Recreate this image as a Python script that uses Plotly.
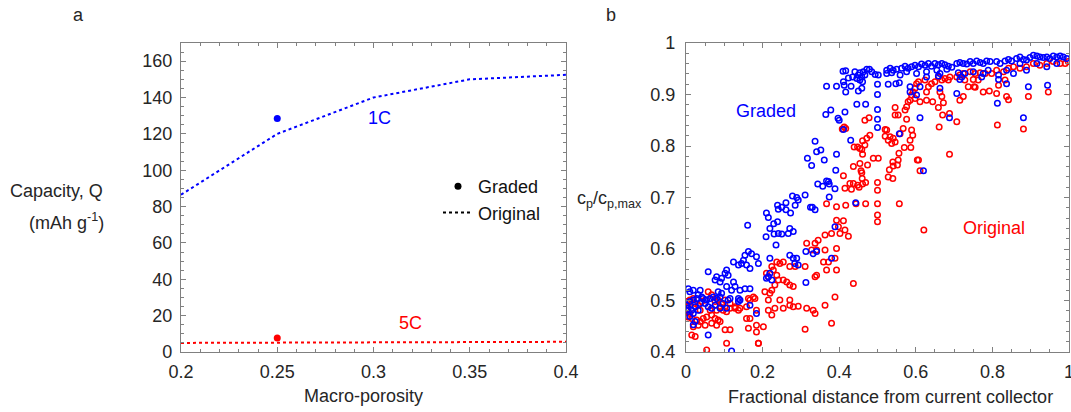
import plotly.graph_objects as go

# ---------------- Panel a data ----------------
porosity = [0.2, 0.25, 0.3, 0.35, 0.4]
q_1c_original = [86.5, 120.0, 140.0, 150.0, 152.5]
q_5c_original = [5.0, 5.2, 5.4, 5.5, 5.6]
graded_porosity = [0.25]
q_1c_graded = [128.5]
q_5c_graded = [7.7]

# ---------------- Panel b data ----------------
graded_points = [
    (0.41, 0.945), (0.417, 0.946), (0.441, 0.944), (0.454, 0.942), (0.463, 0.944), (0.472, 0.949),
    (0.479, 0.949), (0.485, 0.944), (0.467, 0.938), (0.459, 0.934), (0.45, 0.938), (0.446, 0.931),
    (0.454, 0.928), (0.461, 0.925), (0.435, 0.934), (0.424, 0.932), (0.411, 0.925), (0.413, 0.918),
    (0.393, 0.916), (0.367, 0.916), (0.417, 0.905), (0.431, 0.916), (0.45, 0.907), (0.459, 0.912),
    (0.446, 0.881), (0.469, 0.881), (0.365, 0.861), (0.378, 0.87), (0.415, 0.866), (0.397, 0.854),
    (0.4, 0.85), (0.411, 0.832), (0.43, 0.811), (0.337, 0.809), (0.341, 0.789), (0.352, 0.792),
    (0.317, 0.776), (0.328, 0.762), (0.361, 0.773), (0.393, 0.784), (0.391, 0.753), (0.344, 0.726),
    (0.357, 0.722), (0.372, 0.731), (0.374, 0.726), (0.367, 0.732), (0.389, 0.717), (0.374, 0.701),
    (0.311, 0.705), (0.289, 0.7), (0.278, 0.703), (0.293, 0.695), (0.285, 0.685), (0.261, 0.69),
    (0.25, 0.681), (0.241, 0.677), (0.239, 0.685), (0.261, 0.676), (0.273, 0.67), (0.33, 0.681),
    (0.337, 0.676), (0.325, 0.681), (0.443, 0.69), (0.21, 0.67), (0.215, 0.661), (0.239, 0.653),
    (0.229, 0.649), (0.161, 0.646), (0.271, 0.64),
    (0.524, 0.947), (0.533, 0.951), (0.541, 0.947), (0.55, 0.949), (0.563, 0.951), (0.572, 0.955),
    (0.58, 0.951), (0.589, 0.954), (0.598, 0.957), (0.607, 0.954), (0.615, 0.959), (0.624, 0.957),
    (0.633, 0.96), (0.641, 0.955), (0.65, 0.96), (0.659, 0.958), (0.668, 0.96), (0.676, 0.958),
    (0.685, 0.955), (0.694, 0.953), (0.707, 0.96), (0.715, 0.962), (0.724, 0.96), (0.733, 0.959),
    (0.742, 0.964), (0.75, 0.96), (0.759, 0.965), (0.768, 0.962), (0.776, 0.96), (0.785, 0.965),
    (0.794, 0.964), (0.811, 0.964), (0.82, 0.96), (0.833, 0.965), (0.842, 0.968), (0.85, 0.965),
    (0.863, 0.97), (0.872, 0.973), (0.881, 0.968), (0.889, 0.967), (0.898, 0.972), (0.907, 0.976),
    (0.916, 0.975), (0.924, 0.973), (0.933, 0.972), (0.942, 0.973), (0.95, 0.97), (0.959, 0.975),
    (0.968, 0.973), (0.977, 0.975), (0.985, 0.973), (0.994, 0.97), (0.494, 0.939), (0.502, 0.938),
    (0.524, 0.941), (0.537, 0.942), (0.559, 0.938), (0.576, 0.944), (0.602, 0.941), (0.628, 0.944),
    (0.655, 0.947), (0.663, 0.941), (0.681, 0.949), (0.711, 0.942), (0.72, 0.934), (0.728, 0.941),
    (0.75, 0.944), (0.776, 0.941), (0.789, 0.947), (0.816, 0.938), (0.837, 0.947), (0.855, 0.941),
    (0.872, 0.96), (0.889, 0.947), (0.916, 0.96), (0.942, 0.954), (0.968, 0.96),
    (0.5, 0.92), (0.5, 0.9), (0.5, 0.871), (0.5, 0.852), (0.5, 0.836), (0.528, 0.92), (0.548, 0.921),
    (0.557, 0.923), (0.611, 0.915), (0.585, 0.915), (0.663, 0.912), (0.659, 0.936), (0.628, 0.934),
    (0.602, 0.899), (0.585, 0.905), (0.611, 0.855), (0.688, 0.855), (0.557, 0.824), (0.62, 0.752),
    (0.707, 0.902), (0.715, 0.929), (0.772, 0.934), (0.816, 0.929), (0.837, 0.921), (0.813, 0.883),
    (0.881, 0.855), (0.894, 0.915), (0.944, 0.918),
    (0.28, 0.634), (0.267, 0.63), (0.25, 0.629), (0.241, 0.63), (0.23, 0.629), (0.209, 0.624),
    (0.235, 0.608), (0.219, 0.64), (0.163, 0.595), (0.171, 0.591), (0.154, 0.588), (0.184, 0.585),
    (0.189, 0.572), (0.15, 0.578), (0.145, 0.572), (0.158, 0.569), (0.167, 0.562), (0.124, 0.575),
    (0.137, 0.569), (0.106, 0.559), (0.102, 0.553), (0.11, 0.549), (0.08, 0.546), (0.089, 0.536),
    (0.093, 0.543), (0.058, 0.556), (0.076, 0.54), (0.219, 0.582), (0.271, 0.588), (0.28, 0.582),
    (0.289, 0.582), (0.284, 0.572), (0.215, 0.546), (0.224, 0.54), (0.21, 0.543), (0.219, 0.553),
    (0.313, 0.595), (0.332, 0.591), (0.341, 0.595), (0.38, 0.582), (0.389, 0.643), (0.313, 0.535),
    (0.293, 0.569), (0.124, 0.536), (0.128, 0.527), (0.119, 0.52), (0.154, 0.523), (0.167, 0.523),
    (0.141, 0.52), (0.106, 0.527), (0.115, 0.504), (0.137, 0.504), (0.141, 0.501), (0.11, 0.501),
    (0.167, 0.491), (0.184, 0.475), (0.137, 0.498),
    (0.006, 0.523), (0.019, 0.52), (0.01, 0.517), (0.032, 0.511), (0.041, 0.507), (0.037, 0.52),
    (0.045, 0.504), (0.054, 0.501), (0.063, 0.504), (0.071, 0.507), (0.08, 0.504), (0.089, 0.507),
    (0.093, 0.514), (0.084, 0.517), (0.028, 0.504), (0.019, 0.501), (0.01, 0.498), (0.002, 0.491),
    (0.006, 0.485), (0.015, 0.481), (0.032, 0.481), (0.024, 0.488), (0.037, 0.494), (0.05, 0.494),
    (0.058, 0.488), (0.067, 0.485), (0.076, 0.491), (0.019, 0.475), (0.01, 0.469), (0.024, 0.459),
    (0.019, 0.453), (0.058, 0.433), (0.119, 0.402), (0.002, 0.481), (0.097, 0.494), (0.106, 0.485),
    (0.089, 0.485),
]

original_points = [
    (0.467, 0.85), (0.478, 0.855), (0.408, 0.833), (0.417, 0.834), (0.413, 0.837), (0.472, 0.815),
    (0.461, 0.81), (0.467, 0.802), (0.454, 0.795), (0.448, 0.798), (0.439, 0.798), (0.461, 0.784),
    (0.459, 0.793), (0.437, 0.76), (0.454, 0.766), (0.457, 0.752), (0.459, 0.748), (0.474, 0.763),
    (0.411, 0.742), (0.46, 0.737), (0.437, 0.727), (0.428, 0.727), (0.448, 0.724), (0.461, 0.726),
    (0.469, 0.729), (0.415, 0.718), (0.432, 0.716), (0.452, 0.72), (0.367, 0.688), (0.393, 0.682),
    (0.417, 0.685), (0.444, 0.688), (0.469, 0.688), (0.393, 0.656), (0.411, 0.655), (0.398, 0.643),
    (0.707, 0.934), (0.715, 0.938), (0.724, 0.941), (0.742, 0.944), (0.755, 0.941), (0.768, 0.942),
    (0.781, 0.941), (0.798, 0.941), (0.811, 0.947), (0.829, 0.944), (0.842, 0.951), (0.855, 0.954),
    (0.872, 0.951), (0.889, 0.954), (0.907, 0.96), (0.924, 0.957), (0.942, 0.96), (0.959, 0.964),
    (0.977, 0.96), (0.99, 0.96), (0.998, 0.964),
    (0.659, 0.934), (0.668, 0.928), (0.676, 0.931), (0.685, 0.928), (0.689, 0.934), (0.65, 0.925),
    (0.641, 0.921), (0.633, 0.915), (0.628, 0.905), (0.624, 0.928), (0.607, 0.925), (0.602, 0.921),
    (0.598, 0.912), (0.593, 0.905), (0.589, 0.899), (0.585, 0.889), (0.58, 0.886), (0.576, 0.876),
    (0.598, 0.892), (0.611, 0.886), (0.628, 0.889), (0.644, 0.886), (0.659, 0.875), (0.672, 0.884),
    (0.663, 0.905), (0.668, 0.896), (0.728, 0.928), (0.75, 0.929), (0.763, 0.928), (0.737, 0.915),
    (0.755, 0.914), (0.776, 0.905), (0.792, 0.907), (0.715, 0.889), (0.724, 0.896), (0.752, 0.915),
    (0.811, 0.902), (0.833, 0.928), (0.837, 0.896), (0.842, 0.89), (0.816, 0.918), (0.894, 0.896),
    (0.946, 0.905), (0.813, 0.841), (0.881, 0.833), (0.661, 0.837), (0.688, 0.784), (0.707, 0.847),
    (0.67, 0.86), (0.688, 0.863),
    (0.572, 0.87), (0.567, 0.834), (0.559, 0.824), (0.589, 0.831), (0.585, 0.811), (0.592, 0.821),
    (0.57, 0.797), (0.587, 0.797), (0.556, 0.786), (0.554, 0.773), (0.552, 0.763), (0.54, 0.769),
    (0.531, 0.754), (0.541, 0.761), (0.54, 0.737), (0.528, 0.74), (0.607, 0.773), (0.611, 0.752),
    (0.604, 0.773), (0.546, 0.875), (0.554, 0.86), (0.546, 0.86), (0.576, 0.852), (0.52, 0.819),
    (0.524, 0.831), (0.533, 0.818), (0.541, 0.815), (0.528, 0.811), (0.537, 0.805), (0.546, 0.808),
    (0.52, 0.832), (0.5, 0.729), (0.5, 0.714), (0.5, 0.688), (0.5, 0.666), (0.5, 0.653),
    (0.48, 0.821), (0.489, 0.776), (0.502, 0.776), (0.557, 0.688), (0.621, 0.637),
    (0.415, 0.637), (0.402, 0.63), (0.424, 0.625), (0.38, 0.63), (0.363, 0.627), (0.345, 0.617),
    (0.337, 0.611), (0.315, 0.611), (0.328, 0.598), (0.341, 0.598), (0.363, 0.598), (0.393, 0.601),
    (0.389, 0.582), (0.372, 0.575), (0.359, 0.575), (0.393, 0.559), (0.367, 0.559), (0.311, 0.566),
    (0.337, 0.546), (0.341, 0.549), (0.437, 0.533), (0.389, 0.507), (0.38, 0.456), (0.363, 0.491),
    (0.332, 0.481), (0.337, 0.475), (0.315, 0.485), (0.311, 0.444), (0.271, 0.501), (0.271, 0.491),
    (0.28, 0.488), (0.293, 0.489), (0.254, 0.485), (0.245, 0.501), (0.232, 0.485), (0.215, 0.481),
    (0.224, 0.472), (0.202, 0.449), (0.184, 0.452), (0.189, 0.417), (0.271, 0.566), (0.245, 0.572),
    (0.237, 0.575), (0.254, 0.575), (0.285, 0.566), (0.228, 0.559), (0.224, 0.566), (0.237, 0.549),
    (0.241, 0.54), (0.254, 0.54), (0.263, 0.536), (0.271, 0.53), (0.28, 0.527), (0.232, 0.53),
    (0.224, 0.52), (0.219, 0.514), (0.215, 0.501), (0.206, 0.517), (0.21, 0.553), (0.215, 0.546),
    (0.002, 0.498), (0.01, 0.501), (0.019, 0.504), (0.006, 0.491), (0.024, 0.494), (0.032, 0.491),
    (0.041, 0.498), (0.05, 0.501), (0.058, 0.517), (0.067, 0.511), (0.076, 0.498), (0.084, 0.501),
    (0.093, 0.494), (0.102, 0.501), (0.115, 0.494), (0.128, 0.488), (0.141, 0.485), (0.158, 0.488),
    (0.167, 0.501), (0.176, 0.507), (0.18, 0.504), (0.163, 0.504), (0.006, 0.468), (0.015, 0.465),
    (0.028, 0.462), (0.037, 0.459), (0.045, 0.465), (0.054, 0.468), (0.067, 0.472), (0.076, 0.465),
    (0.084, 0.462), (0.097, 0.481), (0.106, 0.478), (0.115, 0.485), (0.128, 0.485), (0.137, 0.481),
    (0.019, 0.449), (0.032, 0.452), (0.05, 0.452), (0.067, 0.456), (0.08, 0.452), (0.089, 0.459),
    (0.102, 0.443), (0.115, 0.443), (0.158, 0.465), (0.167, 0.465), (0.184, 0.481), (0.163, 0.446),
    (0.184, 0.439), (0.015, 0.433), (0.024, 0.43), (0.054, 0.404), (0.106, 0.417), (0.189, 0.417),
    (0.002, 0.485), (0.0, 0.481), (0.01, 0.475), (0.037, 0.481), (0.063, 0.481), (0.08, 0.481),
    (0.089, 0.488),
]

graded_x = [p[0] for p in graded_points]
graded_y = [p[1] for p in graded_points]
original_x = [p[0] for p in original_points]
original_y = [p[1] for p in original_points]

# ---------------- Styling ----------------
W, H = 1071, 412
BLUE = "rgb(0,0,255)"
RED = "rgb(255,0,0)"
AXIS = "#808080"
TXT = "#262626"
FONT = "Liberation Sans, Arial, sans-serif"


def px(x):
    return x / W


def py(y):
    return 1 - y / H


fig = go.Figure()

# Panel a
fig.add_trace(go.Scatter(x=porosity, y=q_1c_original, mode="lines",
                         line=dict(color=BLUE, width=2, dash="dot"),
                         showlegend=False, xaxis="x", yaxis="y"))
fig.add_trace(go.Scatter(x=porosity, y=q_5c_original, mode="lines",
                         line=dict(color=RED, width=2, dash="dot"),
                         showlegend=False, xaxis="x", yaxis="y"))
fig.add_trace(go.Scatter(x=graded_porosity, y=q_1c_graded, mode="markers",
                         marker=dict(color=BLUE, size=7),
                         showlegend=False, xaxis="x", yaxis="y"))
fig.add_trace(go.Scatter(x=graded_porosity, y=q_5c_graded, mode="markers",
                         marker=dict(color=RED, size=7),
                         showlegend=False, xaxis="x", yaxis="y"))
# legend entries
fig.add_trace(go.Scatter(x=[None], y=[None], mode="markers", name="Graded",
                         marker=dict(color="black", size=7),
                         xaxis="x", yaxis="y"))
fig.add_trace(go.Scatter(x=[None], y=[None], mode="lines", name="Original",
                         line=dict(color="black", width=2, dash="dot"),
                         xaxis="x", yaxis="y"))

# Panel b
fig.add_trace(go.Scatter(x=original_x, y=original_y, mode="markers",
                         marker=dict(symbol="circle-open", color=RED, size=5.5,
                                     line=dict(width=1.5, color=RED)),
                         showlegend=False, xaxis="x2", yaxis="y2"))
fig.add_trace(go.Scatter(x=graded_x, y=graded_y, mode="markers",
                         marker=dict(symbol="circle-open", color=BLUE, size=5.5,
                                     line=dict(width=1.5, color=BLUE)),
                         showlegend=False, xaxis="x2", yaxis="y2"))

common = dict(showgrid=False, zeroline=False, showline=True, linecolor=AXIS,
              linewidth=1.3, mirror="ticks", ticks="inside", tickcolor=AXIS,
              ticklen=5, tickwidth=1, automargin=False, ticklabeloverflow="allow",
              tickfont=dict(family=FONT, size=18, color=TXT))

fig.update_layout(
    width=W, height=H,
    margin=dict(l=0, r=0, t=0, b=0),
    paper_bgcolor="white", plot_bgcolor="white",
    font=dict(family=FONT, size=18, color=TXT),
    xaxis=dict(domain=[px(181), px(566)], range=[0.2, 0.4], dtick=0.05, tick0=0.2,
               anchor="y", ticklabelstandoff=3,
               minor=dict(dtick=0.01, ticks="inside", ticklen=3, tickcolor=AXIS), **common),
    yaxis=dict(domain=[py(352), py(43)], range=[0, 170], dtick=20, tick0=0,
               anchor="x", ticklabelstandoff=4,
               minor=dict(dtick=5, ticks="inside", ticklen=3, tickcolor=AXIS), **common),
    xaxis2=dict(domain=[px(686), px(1069)], range=[0, 1], dtick=0.2, tick0=0,
                anchor="y2", ticklabelstandoff=3,
                minor=dict(dtick=0.05, ticks="inside", ticklen=3, tickcolor=AXIS), **common),
    yaxis2=dict(domain=[py(352), py(43)], range=[0.4, 1.0], dtick=0.1, tick0=0.4,
                anchor="x2", ticklabelstandoff=6,
                minor=dict(dtick=0.02, ticks="inside", ticklen=3, tickcolor=AXIS), **common),
    legend=dict(x=px(438), y=py(168), xanchor="left", yanchor="top",
                bgcolor="rgba(0,0,0,0)", font=dict(family=FONT, size=18, color="#111"),
                itemwidth=30, tracegroupgap=0),
    showlegend=True,
)

ann = []
def text(t, x, y, color=TXT, size=18, xanchor="center", xref="paper", yref="paper"):
    ann.append(dict(text=t, x=x, y=y, xref=xref, yref=yref, showarrow=False,
                    xanchor=xanchor, yanchor="middle",
                    font=dict(family=FONT, size=size, color=color)))

text("a", px(78), py(15))
text("b", px(611), py(15))
text("Capacity, Q", px(56), py(191))
text("(mAh g<sup>-1</sup>)", px(66), py(221))
text("Macro-porosity", px(363), py(396))
text("Fractional distance from current collector", px(890), py(397))
text("c<sub>p</sub>/c<sub>p,max</sub>", px(644), py(199), xanchor="right")
text("1C", 0.303, 128.5, color=BLUE, size=18, xref="x", yref="y")
text("5C", 0.319, 16.0, color=RED, size=18, xref="x", yref="y")
text("Graded", 0.2076, 0.867, color=BLUE, size=18, xref="x2", yref="y2")
text("Original", 0.804, 0.641, color=RED, size=18, xref="x2", yref="y2")
fig.update_layout(annotations=ann)

fig.write_html("out.html",
               config={"displayModeBar": False},
               post_script="document.body.style.margin='0px';document.body.style.padding='0px';")
